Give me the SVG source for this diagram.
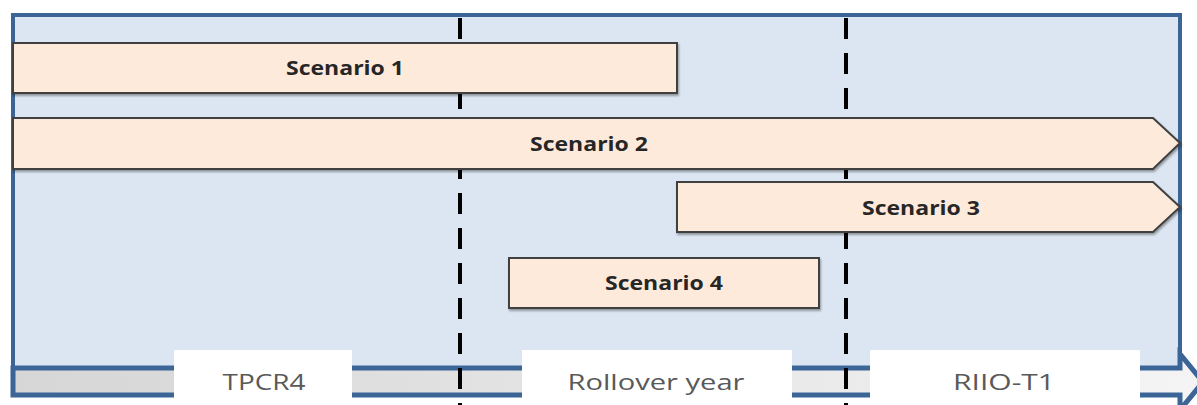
<svg xmlns="http://www.w3.org/2000/svg" width="1197" height="405" viewBox="0 0 1197 405">
  <defs>
    <linearGradient id="band" x1="0" y1="0" x2="1" y2="0">
      <stop offset="0" stop-color="#d6d6d6"/>
      <stop offset="1" stop-color="#f4f4f4"/>
    </linearGradient>
    <filter id="shadow" x="-5%" y="-20%" width="110%" height="150%">
      <feDropShadow dx="1" dy="2" stdDeviation="1.2" flood-color="#000" flood-opacity="0.35"/>
    </filter>
    <style>
      .frame { fill: #dce6f2; stroke: #3b6497; stroke-width: 4; }
      .band { fill: url(#band); stroke: #3b6497; stroke-width: 5; stroke-linejoin: miter; }
      .divider { stroke: #000; stroke-width: 4; stroke-dasharray: 21 14; fill: none; }
      .scen { fill: #fdeada; stroke: #404040; stroke-width: 2; filter: url(#shadow); }
      .scen-text { font-family: "Open Sans", "Liberation Sans", sans-serif; font-weight: bold; font-size: 19px; fill: #262626; text-anchor: middle; }
      .label-box { fill: #ffffff; }
      .label-text { font-family: "Open Sans", "Liberation Sans", sans-serif; font-size: 22px; fill: #595959; text-anchor: middle; }
    </style>
  </defs>

  <rect width="1197" height="405" fill="#ffffff"/>

  <g id="frame">
    <path class="frame" d="M13,368 L13,15 L1180,15 L1180,368"/>
  </g>

  <g id="timeline">
    <path class="band" d="M13,368 L1180,368 L1180,354 L1203,382 L1180,410 L1180,395 L13,395 Z"/>
  </g>

  <g id="connectors">
    <line class="divider" x1="460" y1="18" x2="460" y2="410"/>
    <line class="divider" x1="846" y1="18" x2="846" y2="410"/>
  </g>

  <g id="scenario-1">
    <rect class="scen" x="13" y="43" width="664" height="50"/>
    <text class="scen-text" x="345" y="75" textLength="118" lengthAdjust="spacingAndGlyphs">Scenario 1</text>
  </g>

  <g id="scenario-2">
    <path class="scen" d="M13,118 L1153,118 L1180,143 L1153,169 L13,169 Z"/>
    <text class="scen-text" x="589" y="151" textLength="118" lengthAdjust="spacingAndGlyphs">Scenario 2</text>
  </g>

  <g id="scenario-3">
    <path class="scen" d="M677,182 L1153,182 L1180,207 L1153,232 L677,232 Z"/>
    <text class="scen-text" x="921" y="215" textLength="118" lengthAdjust="spacingAndGlyphs">Scenario 3</text>
  </g>

  <g id="scenario-4">
    <rect class="scen" x="509" y="258" width="310" height="50"/>
    <text class="scen-text" x="664" y="290" textLength="118" lengthAdjust="spacingAndGlyphs">Scenario 4</text>
  </g>

  <g id="label-tpcr4">
    <rect class="label-box" x="174" y="350" width="178" height="55"/>
    <text class="label-text" x="264" y="390" textLength="83" lengthAdjust="spacingAndGlyphs">TPCR4</text>
  </g>

  <g id="label-rollover">
    <rect class="label-box" x="522" y="350" width="270" height="55"/>
    <text class="label-text" x="656" y="390" textLength="177" lengthAdjust="spacingAndGlyphs">Rollover year</text>
  </g>

  <g id="label-riio">
    <rect class="label-box" x="870" y="350" width="270" height="55"/>
    <text class="label-text" x="1004" y="390" textLength="102" lengthAdjust="spacingAndGlyphs">RIIO-T1</text>
  </g>
</svg>
